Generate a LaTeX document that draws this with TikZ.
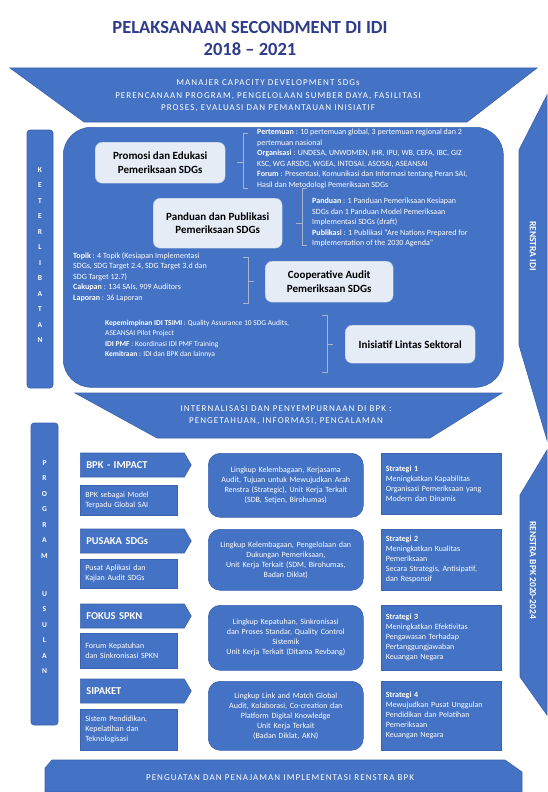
\documentclass[tikz,border=0pt]{standalone}
\usepackage{fontspec}
\setmainfont{Carlito}
\newfontfamily\bannerfont[LetterSpace=12]{Carlito}
\usetikzlibrary{positioning, shapes.symbols}

\definecolor{bpkblue}{HTML}{4472C4}
\definecolor{bpknavy}{HTML}{2F3C8C}
\definecolor{paleblue}{HTML}{E6ECF6}
\definecolor{linegray}{HTML}{A9B4CC}
\definecolor{edgeblue}{HTML}{3C63AE}

\begin{document}
\begin{tikzpicture}[
  x=1pt, y=-1pt,
  titletext/.style={align=center, text=bpknavy, font=\fontsize{18.5}{22}\selectfont\bfseries},
  bannertext/.style={align=center, text=white, font=\bannerfont\fontsize{9}{12.5}\selectfont},
  bluefill/.style={fill=bpkblue, draw=edgeblue, line width=0.6pt},
  sidebar/.style={bluefill, rounded corners=3pt},
  barletter/.style={text=white, inner sep=0pt, font=\fontsize{7.5}{8}\selectfont\bfseries},
  panel/.style={rectangle, bluefill, rounded corners=28pt, anchor=north west},
  topicbox/.style={rectangle, draw=paleblue!60!bpkblue, fill=paleblue, rounded corners=7pt, align=center, text=black, font=\fontsize{11}{13.5}\selectfont\bfseries, anchor=north west},
  notetext/.style={align=left, text=white, anchor=north west, inner sep=0pt, font=\fontsize{8}{10.5}\selectfont},
  bracket/.style={draw=linegray, line width=0.9pt},
  progarrow/.style={signal, signal to=east, signal pointer angle=120, bluefill, minimum height=24pt, text width=92pt, inner xsep=6pt, inner ysep=0pt, align=left, text=white, font=\fontsize{10.5}{12}\selectfont\bfseries, anchor=west},
  subbox/.style={rectangle, bluefill, minimum width=97pt, text width=87pt, inner xsep=5pt, align=left, text=white, anchor=north west, font=\fontsize{8}{10}\selectfont},
  scopebox/.style={rectangle, bluefill, rounded corners=12pt, minimum width=155pt, text width=145pt, align=center, text=white, anchor=north west, font=\fontsize{8}{10}\selectfont},
  stratbox/.style={rectangle, bluefill, minimum width=120pt, text width=110pt, inner xsep=5pt, align=left, text=white, anchor=north west, font=\fontsize{8}{10}\selectfont},
  renstratext/.style={rotate=-90, text=white, font=\fontsize{9.5}{10}\selectfont\bfseries}
]
  \useasboundingbox (0,0) rectangle (547,792);
  \fill[white] (0,0) rectangle (547,792);

  % judul
  \node[titletext] (title) at (250,39) {PELAKSANAAN SECONDMENT DI IDI\\2018 – 2021};

  % banner atas
  \fill[bluefill] (10,68) -- (537,68) -- (467,122) -- (84,122) -- cycle;
  \node[bannertext] (manajer) at (268,96) {MANAJER CAPACITY DEVELOPMENT SDGs\\PERENCANAAN PROGRAM, PENGELOLAAN SUMBER DAYA, FASILITASI\\PROSES, EVALUASI DAN PEMANTAUAN INISIATIF};

  % keterlibatan
  \fill[sidebar] (27,130) rectangle (53,388);
  \foreach \ch [count=\i] in {K,E,T,E,R,L,I,B,A,T,A,N}
    \node[barletter] (ket\i) at (40,{170+15.5*(\i-1)}) {\ch};

  \node[panel, minimum width=440pt, minimum height=260pt] (ketpanel) at (63,127) {};

  \node[topicbox, minimum width=130pt, minimum height=41pt] (promosi) at (95,142) {Promosi dan Edukasi\\Pemeriksaan SDGs};
  \node[topicbox, minimum width=129pt, minimum height=50pt] (panduan) at (153,198) {Panduan dan Publikasi\\Pemeriksaan SDGs};
  \node[topicbox, minimum width=128pt, minimum height=41pt] (coop) at (265,261) {Cooperative Audit\\Pemeriksaan SDGs};
  \node[topicbox, minimum width=130pt, minimum height=38pt] (lintas) at (345,325) {Inisiatif Lintas Sektoral};

  % kurung dan keterangan
  \draw[bracket] ([xshift=12pt]promosi.east) -- ++(6,0) ++(5,-29) -- ++(-5,0) -- ++(0,55) -- ++(5,0);
  \draw[bracket] ([xshift=14pt]panduan.east) -- ++(6,0) ++(5,-35) -- ++(-5,0) -- ++(0,57) -- ++(5,0);
  \draw[bracket] ([xshift=-11pt]coop.west) -- ++(-6,0) ++(-5,-24) -- ++(5,0) -- ++(0,46) -- ++(-5,0);
  \draw[bracket] ([xshift=-12pt]lintas.west) -- ++(-6,0) ++(-5,-29) -- ++(5,0) -- ++(0,57) -- ++(-5,0);

  \node[notetext] (promonote) at (257,129) {\textbf{Pertemuan} : 10 pertemuan global, 3 pertemuan regional dan 2\\pertemuan nasional\\\textbf{Organisasi} : UNDESA, UNWOMEN, IHR, IPU, WB, CEFA, IBC, GIZ\\KSC, WG ARSDG, WGEA, INTOSAI, ASOSAI, ASEANSAI\\\textbf{Forum} : Presentasi, Komunikasi dan Informasi tentang Peran SAI,\\Hasil dan Metodologi Pemeriksaan SDGs};
  \node[notetext] (pandunote) at (312,198) {\textbf{Panduan} : 1 Panduan Pemeriksaan Kesiapan\\SDGs dan 1 Panduan Model Pemeriksaan\\Implementasi SDGs (draft)\\\textbf{Publikasi} : 1 Publikasi “Are Nations Prepared for\\Implementation of the 2030 Agenda”};
  \node[notetext] (coopnote) at (73,252) {\textbf{Topik} : 4 Topik (Kesiapan Implementasi\\SDGs, SDG Target 2.4, SDG Target 3.d dan\\SDG Target 12.7)\\\textbf{Cakupan} : 134 SAIs, 909 Auditors\\\textbf{Laporan} : 36 Laporan};
  \node[notetext, font=\fontsize{7.5}{10.5}\selectfont] (lintasnote) at (105,320) {\textbf{Kepemimpinan IDI TSIMI} : Quality Assurance 10 SDG Audits,\\ASEANSAI Pilot Project\\\textbf{IDI PMF} : Koordinasi IDI PMF Training\\\textbf{Kemitraan} : IDI dan BPK dan lainnya};

  % renstra kanan
  \fill[bluefill] (547,95) -- (519,150) -- (519,345) -- (547,440) -- cycle;
  \node[renstratext] (renidi) at (533,246) {RENSTRA IDI};
  \fill[bluefill] (547,450) -- (520,495) -- (520,677) -- (547,715) -- cycle;
  \node[renstratext] (renbpk) at (533,570) {RENSTRA BPK 2020-2024};

  % banner tengah
  \fill[bluefill] (75,393) -- (502,393) -- (430,438) -- (157,438) -- cycle;
  \node[bannertext] (internal) at (286,415) {INTERNALISASI DAN PENYEMPURNAAN DI BPK :\\PENGETAHUAN, INFORMASI, PENGALAMAN};

  % program usulan
  \fill[sidebar] (31,423) rectangle (58,725);
  \foreach \ch [count=\i] in {P,R,O,G,R,A,M}
    \node[barletter] (prog\i) at (44.5,{463+15.5*(\i-1)}) {\ch};
  \foreach \ch [count=\i] in {U,S,U,L,A,N}
    \node[barletter] (usul\i) at (44.5,{594+15.5*(\i-1)}) {\ch};

  \node[progarrow] (impact) at (80,465) {BPK - IMPACT};
  \node[subbox, minimum height=30pt] (impactsub) at (80,485) {BPK sebagai Model\\Terpadu Global SAI};
  \node[scopebox, minimum height=64pt] (impactscope) at (208,453) {Lingkup Kelembagaan, Kerjasama\\Audit, Tujuan untuk Mewujudkan Arah\\Renstra (Strategic), Unit Kerja Terkait\\(SDB, Setjen, Birohumas)};
  \node[stratbox, minimum height=61pt, right=17pt of impactscope.north east, anchor=north west] (strat1) {\textbf{Strategi 1}\\Meningkatkan Kapabilitas\\Organisasi Pemeriksaan yang\\Modern dan Dinamis};

  \node[progarrow] (pusaka) at (80,541) {PUSAKA SDGs};
  \node[subbox, minimum height=29pt] (pusakasub) at (80,559) {Pusat Aplikasi dan\\Kajian Audit SDGs};
  \node[scopebox, minimum height=61pt] (pusakascope) at (208,529) {Lingkup Kelembagaan, Pengelolaan dan\\Dukungan Pemeriksaan,\\Unit Kerja Terkait (SDM, Birohumas,\\Badan Diklat)};
  \node[stratbox, minimum height=61pt, right=17pt of pusakascope.north east, anchor=north west] (strat2) {\textbf{Strategi 2}\\Meningkatkan Kualitas\\Pemeriksaan\\Secara Strategis, Antisipatif,\\dan Responsif};

  \node[progarrow] (fokus) at (80,616) {FOKUS SPKN};
  \node[subbox, minimum height=35pt] (fokussub) at (80,633) {Forum Kepatuhan\\dan Sinkronisasi SPKN};
  \node[scopebox, minimum height=65pt] (fokusscope) at (208,605) {Lingkup Kepatuhan, Sinkronisasi\\dan Proses Standar, Quality Control\\Sistemik\\Unit Kerja Terkait (Ditama Revbang)};
  \node[stratbox, minimum height=65pt, right=17pt of fokusscope.north east, anchor=north west] (strat3) {\textbf{Strategi 3}\\Meningkatkan Efektivitas\\Pengawasan Terhadap\\Pertanggungjawaban\\Keuangan Negara};

  \node[progarrow] (sipaket) at (80,691) {SIPAKET};
  \node[subbox, minimum height=41pt] (sipaketsub) at (80,709) {Sistem Pendidikan,\\Kepelatihan dan\\Teknologisasi};
  \node[scopebox, minimum height=69pt] (sipaketscope) at (208,681) {Lingkup Link and Match Global\\Audit, Kolaborasi, Co-creation dan\\Platform Digital Knowledge\\Unit Kerja Terkait\\(Badan Diklat, AKN)};
  \node[stratbox, minimum height=69pt, right=17pt of sipaketscope.north east, anchor=north west] (strat4) {\textbf{Strategi 4}\\Mewujudkan Pusat Unggulan\\Pendidikan dan Pelatihan\\Pemeriksaan\\Keuangan Negara};

  % banner bawah
  \fill[bluefill] (45,768) -- (52,760) -- (505,760) -- (522,772) -- (522,792) -- (45,792) -- cycle;
  \node[bannertext] (penguatan) at (280,778) {PENGUATAN DAN PENAJAMAN IMPLEMENTASI RENSTRA BPK};
\end{tikzpicture}
\end{document}
